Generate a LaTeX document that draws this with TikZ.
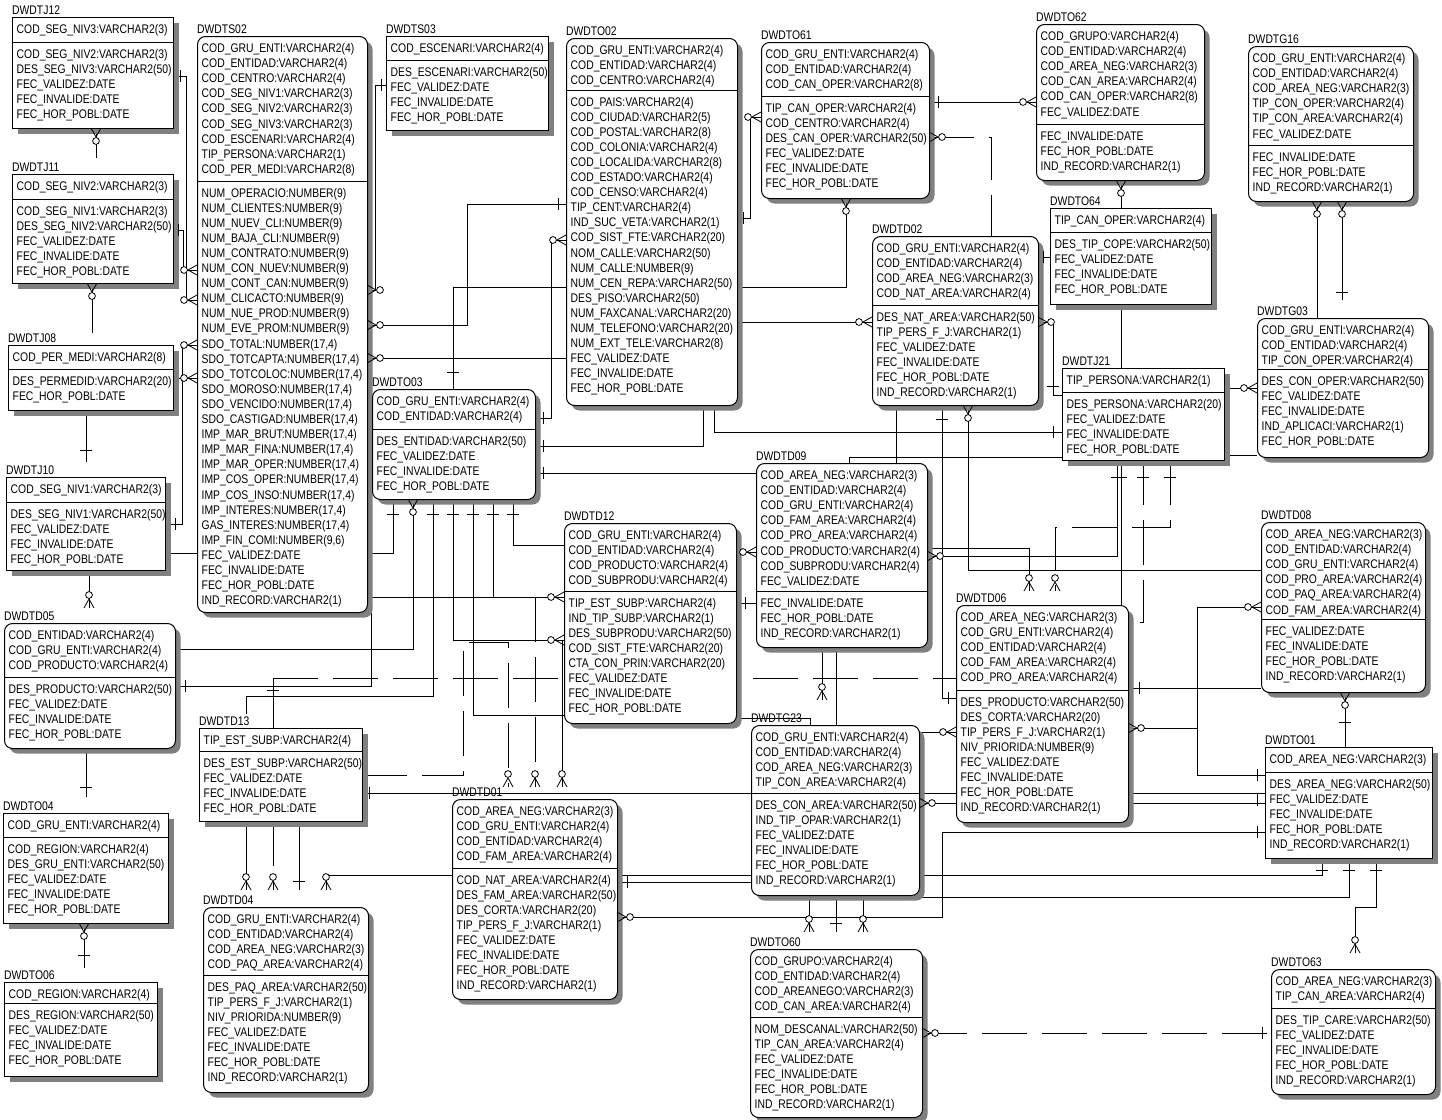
\documentclass[tikz,border=0pt]{standalone}
\usepackage{fontspec}
\setmainfont{Liberation Sans}[FakeStretch=0.83]
\usetikzlibrary{shadows}
\newcommand\efont{\fontsize{12.5}{15.1}\selectfont}
\tikzset{
  ebox/.style={draw, line width=1pt, fill=white, inner sep=0pt, anchor=north west,
    drop shadow={shadow xshift=5pt, shadow yshift=-5pt, fill=black!50, opacity=1}},
  sq/.style={ebox},
  rd/.style={ebox, rounded corners=8pt},
  etxt/.style={anchor=base west, inner sep=0pt, font=\efont},
  conn/.style={line width=0.8pt},
  ldash/.style={dash pattern=on 45pt off 15pt}
}
\newif\ifphantom
\newcommand\ent[9]{%
  \pgfmathsetmacro\ew{#4-#2}\pgfmathsetmacro\eh{#5-#3}%
  \ifphantom
    \path node[anchor=north west, inner sep=0pt, minimum width=\ew pt, minimum height=\eh pt] (#1) at (#2,#3) {};
  \else
    \node[#7, minimum width=\ew pt, minimum height=\eh pt] (#1) at (#2,#3) {};
    \draw[line width=1pt] (#1.west |- 0,#6) -- (#1.east |- 0,#6);
    \node[etxt] (#1-t) at (#2,#3-3) {#1};
    \node[etxt] (#1-k) at (#2+4.5,#3+16.5) {\begin{tabular}[t]{@{}l@{}}#8\end{tabular}};
    \node[etxt] (#1-n) at (#2+4.5,#6+16) {\begin{tabular}[t]{@{}l@{}}#9\end{tabular}};
  \fi}
% end symbols are collected and drawn last, on top of everything
\newcommand\allmarks{}
\newcommand\addmark[1]{\expandafter\gdef\expandafter\allmarks\expandafter{\allmarks#1}}
\newcommand\crcdo[4]{%
  \draw[conn] ({#1+9*(#3)},{#2+9*(#4)}) -- ({#1+5*(#4)},{#2+5*(#3)})
              ({#1+9*(#3)},{#2+9*(#4)}) -- ({#1-5*(#4)},{#2-5*(#3)});
  \draw[conn,fill=white] ({#1+13*(#3)},{#2+13*(#4)}) circle[radius=3.4];}
\newcommand\tkvdo[2]{\draw[conn] (#1,#2-6) -- (#1,#2+6);}
\newcommand\tkhdo[2]{\draw[conn] (#1-6,#2) -- (#1+6,#2);}
\newcommand\crc[4]{\addmark{\crcdo{#1}{#2}{#3}{#4}}}
\newcommand\tkv[2]{\addmark{\tkvdo{#1}{#2}}}
\newcommand\tkh[2]{\addmark{\tkhdo{#1}{#2}}}

\newcommand\allents{%
\ent{DWDTJ12}{12}{17}{173}{128}{42}{sq}
{COD\_SEG\_NIV3:VARCHAR2(3)}
{COD\_SEG\_NIV2:VARCHAR2(3)\\DES\_SEG\_NIV3:VARCHAR2(50)\\FEC\_VALIDEZ:DATE\\FEC\_INVALIDE:DATE\\FEC\_HOR\_POBL:DATE}
\ent{DWDTJ11}{12}{174}{173}{283}{199}{sq}
{COD\_SEG\_NIV2:VARCHAR2(3)}
{COD\_SEG\_NIV1:VARCHAR2(3)\\DES\_SEG\_NIV2:VARCHAR2(50)\\FEC\_VALIDEZ:DATE\\FEC\_INVALIDE:DATE\\FEC\_HOR\_POBL:DATE}
\ent{DWDTJ08}{8}{345}{173}{410}{369}{sq}
{COD\_PER\_MEDI:VARCHAR2(8)}
{DES\_PERMEDID:VARCHAR2(20)\\FEC\_HOR\_POBL:DATE}
\ent{DWDTJ10}{6}{477}{165}{570}{502}{sq}
{COD\_SEG\_NIV1:VARCHAR2(3)}
{DES\_SEG\_NIV1:VARCHAR2(50)\\FEC\_VALIDEZ:DATE\\FEC\_INVALIDE:DATE\\FEC\_HOR\_POBL:DATE}
\ent{DWDTD05}{4}{623}{175}{748}{677}{rd}
{COD\_ENTIDAD:VARCHAR2(4)\\COD\_GRU\_ENTI:VARCHAR2(4)\\COD\_PRODUCTO:VARCHAR2(4)}
{DES\_PRODUCTO:VARCHAR2(50)\\FEC\_VALIDEZ:DATE\\FEC\_INVALIDE:DATE\\FEC\_HOR\_POBL:DATE}
\ent{DWDTO04}{3}{813}{168}{923}{837}{sq}
{COD\_GRU\_ENTI:VARCHAR2(4)}
{COD\_REGION:VARCHAR2(4)\\DES\_GRU\_ENTI:VARCHAR2(50)\\FEC\_VALIDEZ:DATE\\FEC\_INVALIDE:DATE\\FEC\_HOR\_POBL:DATE}
\ent{DWDTO06}{4}{982}{157}{1076}{1003}{sq}
{COD\_REGION:VARCHAR2(4)}
{DES\_REGION:VARCHAR2(50)\\FEC\_VALIDEZ:DATE\\FEC\_INVALIDE:DATE\\FEC\_HOR\_POBL:DATE}
\ent{DWDTS02}{197}{36}{367}{612}{181}{rd}
{COD\_GRU\_ENTI:VARCHAR2(4)\\COD\_ENTIDAD:VARCHAR2(4)\\COD\_CENTRO:VARCHAR2(4)\\COD\_SEG\_NIV1:VARCHAR2(3)\\COD\_SEG\_NIV2:VARCHAR2(3)\\COD\_SEG\_NIV3:VARCHAR2(3)\\COD\_ESCENARI:VARCHAR2(4)\\TIP\_PERSONA:VARCHAR2(1)\\COD\_PER\_MEDI:VARCHAR2(8)}
{NUM\_OPERACIO:NUMBER(9)\\NUM\_CLIENTES:NUMBER(9)\\NUM\_NUEV\_CLI:NUMBER(9)\\NUM\_BAJA\_CLI:NUMBER(9)\\NUM\_CONTRATO:NUMBER(9)\\NUM\_CON\_NUEV:NUMBER(9)\\NUM\_CONT\_CAN:NUMBER(9)\\NUM\_CLICACTO:NUMBER(9)\\NUM\_NUE\_PROD:NUMBER(9)\\NUM\_EVE\_PROM:NUMBER(9)\\SDO\_TOTAL:NUMBER(17,4)\\SDO\_TOTCAPTA:NUMBER(17,4)\\SDO\_TOTCOLOC:NUMBER(17,4)\\SDO\_MOROSO:NUMBER(17,4)\\SDO\_VENCIDO:NUMBER(17,4)\\SDO\_CASTIGAD:NUMBER(17,4)\\IMP\_MAR\_BRUT:NUMBER(17,4)\\IMP\_MAR\_FINA:NUMBER(17,4)\\IMP\_MAR\_OPER:NUMBER(17,4)\\IMP\_COS\_OPER:NUMBER(17,4)\\IMP\_COS\_INSO:NUMBER(17,4)\\IMP\_INTERES:NUMBER(17,4)\\GAS\_INTERES:NUMBER(17,4)\\IMP\_FIN\_COMI:NUMBER(9,6)\\FEC\_VALIDEZ:DATE\\FEC\_INVALIDE:DATE\\FEC\_HOR\_POBL:DATE\\IND\_RECORD:VARCHAR2(1)}
\ent{DWDTS03}{386}{36}{548}{130}{60}{sq}
{COD\_ESCENARI:VARCHAR2(4)}
{DES\_ESCENARI:VARCHAR2(50)\\FEC\_VALIDEZ:DATE\\FEC\_INVALIDE:DATE\\FEC\_HOR\_POBL:DATE}
\ent{DWDTO02}{566}{38}{737}{405}{90}{rd}
{COD\_GRU\_ENTI:VARCHAR2(4)\\COD\_ENTIDAD:VARCHAR2(4)\\COD\_CENTRO:VARCHAR2(4)}
{COD\_PAIS:VARCHAR2(4)\\COD\_CIUDAD:VARCHAR2(5)\\COD\_POSTAL:VARCHAR2(8)\\COD\_COLONIA:VARCHAR2(4)\\COD\_LOCALIDA:VARCHAR2(8)\\COD\_ESTADO:VARCHAR2(4)\\COD\_CENSO:VARCHAR2(4)\\TIP\_CENT:VARCHAR2(4)\\IND\_SUC\_VETA:VARCHAR2(1)\\COD\_SIST\_FTE:VARCHAR2(20)\\NOM\_CALLE:VARCHAR2(50)\\NUM\_CALLE:NUMBER(9)\\NUM\_CEN\_REPA:VARCHAR2(50)\\DES\_PISO:VARCHAR2(50)\\NUM\_FAXCANAL:VARCHAR2(20)\\NUM\_TELEFONO:VARCHAR2(20)\\NUM\_EXT\_TELE:VARCHAR2(8)\\FEC\_VALIDEZ:DATE\\FEC\_INVALIDE:DATE\\FEC\_HOR\_POBL:DATE}
\ent{DWDTO61}{761}{42}{929}{198}{96}{rd}
{COD\_GRU\_ENTI:VARCHAR2(4)\\COD\_ENTIDAD:VARCHAR2(4)\\COD\_CAN\_OPER:VARCHAR2(8)}
{TIP\_CAN\_OPER:VARCHAR2(4)\\COD\_CENTRO:VARCHAR2(4)\\DES\_CAN\_OPER:VARCHAR2(50)\\FEC\_VALIDEZ:DATE\\FEC\_INVALIDE:DATE\\FEC\_HOR\_POBL:DATE}
\ent{DWDTO62}{1036}{24}{1204}{180}{124}{rd}
{COD\_GRUPO:VARCHAR2(4)\\COD\_ENTIDAD:VARCHAR2(4)\\COD\_AREA\_NEG:VARCHAR2(3)\\COD\_CAN\_AREA:VARCHAR2(4)\\COD\_CAN\_OPER:VARCHAR2(8)\\FEC\_VALIDEZ:DATE}
{FEC\_INVALIDE:DATE\\FEC\_HOR\_POBL:DATE\\IND\_RECORD:VARCHAR2(1)}
\ent{DWDTG16}{1248}{46}{1413}{201}{145}{rd}
{COD\_GRU\_ENTI:VARCHAR2(4)\\COD\_ENTIDAD:VARCHAR2(4)\\COD\_AREA\_NEG:VARCHAR2(3)\\TIP\_CON\_OPER:VARCHAR2(4)\\TIP\_CON\_AREA:VARCHAR2(4)\\FEC\_VALIDEZ:DATE}
{FEC\_INVALIDE:DATE\\FEC\_HOR\_POBL:DATE\\IND\_RECORD:VARCHAR2(1)}
\ent{DWDTO64}{1050}{208}{1211}{304}{232}{sq}
{TIP\_CAN\_OPER:VARCHAR2(4)}
{DES\_TIP\_COPE:VARCHAR2(50)\\FEC\_VALIDEZ:DATE\\FEC\_INVALIDE:DATE\\FEC\_HOR\_POBL:DATE}
\ent{DWDTD02}{872}{236}{1038}{405}{305}{rd}
{COD\_GRU\_ENTI:VARCHAR2(4)\\COD\_ENTIDAD:VARCHAR2(4)\\COD\_AREA\_NEG:VARCHAR2(3)\\COD\_NAT\_AREA:VARCHAR2(4)}
{DES\_NAT\_AREA:VARCHAR2(50)\\TIP\_PERS\_F\_J:VARCHAR2(1)\\FEC\_VALIDEZ:DATE\\FEC\_INVALIDE:DATE\\FEC\_HOR\_POBL:DATE\\IND\_RECORD:VARCHAR2(1)}
\ent{DWDTG03}{1257}{318}{1428}{457}{369}{rd}
{COD\_GRU\_ENTI:VARCHAR2(4)\\COD\_ENTIDAD:VARCHAR2(4)\\TIP\_CON\_OPER:VARCHAR2(4)}
{DES\_CON\_OPER:VARCHAR2(50)\\FEC\_VALIDEZ:DATE\\FEC\_INVALIDE:DATE\\IND\_APLICACI:VARCHAR2(1)\\FEC\_HOR\_POBL:DATE}
\ent{DWDTJ21}{1062}{368}{1224}{460}{392}{sq}
{TIP\_PERSONA:VARCHAR2(1)}
{DES\_PERSONA:VARCHAR2(20)\\FEC\_VALIDEZ:DATE\\FEC\_INVALIDE:DATE\\FEC\_HOR\_POBL:DATE}
\ent{DWDTO03}{372}{389}{535}{499}{429}{rd}
{COD\_GRU\_ENTI:VARCHAR2(4)\\COD\_ENTIDAD:VARCHAR2(4)}
{DES\_ENTIDAD:VARCHAR2(50)\\FEC\_VALIDEZ:DATE\\FEC\_INVALIDE:DATE\\FEC\_HOR\_POBL:DATE}
\ent{DWDTD09}{756}{463}{927}{647}{591}{rd}
{COD\_AREA\_NEG:VARCHAR2(3)\\COD\_ENTIDAD:VARCHAR2(4)\\COD\_GRU\_ENTI:VARCHAR2(4)\\COD\_FAM\_AREA:VARCHAR2(4)\\COD\_PRO\_AREA:VARCHAR2(4)\\COD\_PRODUCTO:VARCHAR2(4)\\COD\_SUBPRODU:VARCHAR2(4)\\FEC\_VALIDEZ:DATE}
{FEC\_INVALIDE:DATE\\FEC\_HOR\_POBL:DATE\\IND\_RECORD:VARCHAR2(1)}
\ent{DWDTD12}{564}{523}{736}{723}{591}{rd}
{COD\_GRU\_ENTI:VARCHAR2(4)\\COD\_ENTIDAD:VARCHAR2(4)\\COD\_PRODUCTO:VARCHAR2(4)\\COD\_SUBPRODU:VARCHAR2(4)}
{TIP\_EST\_SUBP:VARCHAR2(4)\\IND\_TIP\_SUBP:VARCHAR2(1)\\DES\_SUBPRODU:VARCHAR2(50)\\COD\_SIST\_FTE:VARCHAR2(20)\\CTA\_CON\_PRIN:VARCHAR2(20)\\FEC\_VALIDEZ:DATE\\FEC\_INVALIDE:DATE\\FEC\_HOR\_POBL:DATE}
\ent{DWDTD08}{1261}{522}{1425}{692}{619}{rd}
{COD\_AREA\_NEG:VARCHAR2(3)\\COD\_ENTIDAD:VARCHAR2(4)\\COD\_GRU\_ENTI:VARCHAR2(4)\\COD\_PRO\_AREA:VARCHAR2(4)\\COD\_PAQ\_AREA:VARCHAR2(4)\\COD\_FAM\_AREA:VARCHAR2(4)}
{FEC\_VALIDEZ:DATE\\FEC\_INVALIDE:DATE\\FEC\_HOR\_POBL:DATE\\IND\_RECORD:VARCHAR2(1)}
\ent{DWDTD06}{956}{605}{1128}{822}{690}{rd}
{COD\_AREA\_NEG:VARCHAR2(3)\\COD\_GRU\_ENTI:VARCHAR2(4)\\COD\_ENTIDAD:VARCHAR2(4)\\COD\_FAM\_AREA:VARCHAR2(4)\\COD\_PRO\_AREA:VARCHAR2(4)}
{DES\_PRODUCTO:VARCHAR2(50)\\DES\_CORTA:VARCHAR2(20)\\TIP\_PERS\_F\_J:VARCHAR2(1)\\NIV\_PRIORIDA:NUMBER(9)\\FEC\_VALIDEZ:DATE\\FEC\_INVALIDE:DATE\\FEC\_HOR\_POBL:DATE\\IND\_RECORD:VARCHAR2(1)}
\ent{DWDTD13}{199}{728}{362}{821}{751}{sq}
{TIP\_EST\_SUBP:VARCHAR2(4)}
{DES\_EST\_SUBP:VARCHAR2(50)\\FEC\_VALIDEZ:DATE\\FEC\_INVALIDE:DATE\\FEC\_HOR\_POBL:DATE}
\ent{DWDTG23}{751}{725}{919}{895}{793}{rd}
{COD\_GRU\_ENTI:VARCHAR2(4)\\COD\_ENTIDAD:VARCHAR2(4)\\COD\_AREA\_NEG:VARCHAR2(3)\\TIP\_CON\_AREA:VARCHAR2(4)}
{DES\_CON\_AREA:VARCHAR2(50)\\IND\_TIP\_OPAR:VARCHAR2(1)\\FEC\_VALIDEZ:DATE\\FEC\_INVALIDE:DATE\\FEC\_HOR\_POBL:DATE\\IND\_RECORD:VARCHAR2(1)}
\ent{DWDTO01}{1265}{747}{1432}{858}{772}{sq}
{COD\_AREA\_NEG:VARCHAR2(3)}
{DES\_AREA\_NEG:VARCHAR2(50)\\FEC\_VALIDEZ:DATE\\FEC\_INVALIDE:DATE\\FEC\_HOR\_POBL:DATE\\IND\_RECORD:VARCHAR2(1)}
\ent{DWDTD01}{452}{799}{617}{999}{868}{rd}
{COD\_AREA\_NEG:VARCHAR2(3)\\COD\_GRU\_ENTI:VARCHAR2(4)\\COD\_ENTIDAD:VARCHAR2(4)\\COD\_FAM\_AREA:VARCHAR2(4)}
{COD\_NAT\_AREA:VARCHAR2(4)\\DES\_FAM\_AREA:VARCHAR2(50)\\DES\_CORTA:VARCHAR2(20)\\TIP\_PERS\_F\_J:VARCHAR2(1)\\FEC\_VALIDEZ:DATE\\FEC\_INVALIDE:DATE\\FEC\_HOR\_POBL:DATE\\IND\_RECORD:VARCHAR2(1)}
\ent{DWDTD04}{203}{907}{368}{1092}{975}{rd}
{COD\_GRU\_ENTI:VARCHAR2(4)\\COD\_ENTIDAD:VARCHAR2(4)\\COD\_AREA\_NEG:VARCHAR2(3)\\COD\_PAQ\_AREA:VARCHAR2(4)}
{DES\_PAQ\_AREA:VARCHAR2(50)\\TIP\_PERS\_F\_J:VARCHAR2(1)\\NIV\_PRIORIDA:NUMBER(9)\\FEC\_VALIDEZ:DATE\\FEC\_INVALIDE:DATE\\FEC\_HOR\_POBL:DATE\\IND\_RECORD:VARCHAR2(1)}
\ent{DWDTO60}{750}{949}{922}{1117}{1017}{rd}
{COD\_GRUPO:VARCHAR2(4)\\COD\_ENTIDAD:VARCHAR2(4)\\COD\_AREANEGO:VARCHAR2(3)\\COD\_CAN\_AREA:VARCHAR2(4)}
{NOM\_DESCANAL:VARCHAR2(50)\\TIP\_CAN\_AREA:VARCHAR2(4)\\FEC\_VALIDEZ:DATE\\FEC\_INVALIDE:DATE\\FEC\_HOR\_POBL:DATE\\IND\_RECORD:VARCHAR2(1)}
\ent{DWDTO63}{1271}{969}{1435}{1094}{1008}{rd}
{COD\_AREA\_NEG:VARCHAR2(3)\\TIP\_CAN\_AREA:VARCHAR2(4)}
{DES\_TIP\_CARE:VARCHAR2(50)\\FEC\_VALIDEZ:DATE\\FEC\_INVALIDE:DATE\\FEC\_HOR\_POBL:DATE\\IND\_RECORD:VARCHAR2(1)}
}

\begin{document}
\begin{tikzpicture}[x=1pt,y=-1pt]
\fill[white] (0,0) rectangle (1442,1119);
\useasboundingbox (0,0) rectangle (1442,1119);

% pass 1: named frames only (no ink), so connectors can refer to them
\phantomtrue
\allents

% ================= CONNECTORS =================
% left column
\draw[conn] (DWDTJ12.east|-0,76) -| (186,300) -- (DWDTS02.west|-0,300);
\tkv{180}{76} \crc{197}{300}{-1}{0}
\draw[conn] (DWDTJ11.east|-0,230) -| (183,270) -- (DWDTS02.west|-0,270);
\tkv{178}{230} \crc{197}{270}{-1}{0}
\draw[conn] (DWDTJ08.east|-0,378) -- (DWDTS02.west|-0,378);
\crc{197}{378}{-1}{0}
\draw[conn] (DWDTJ10.east|-0,524) -| (182,345) -- (DWDTS02.west|-0,345);
\tkv{175}{524} \crc{197}{345}{-1}{0}
\draw[conn] (DWDTJ10.east|-0,553) -- (DWDTS02.west|-0,553);
\draw[conn] (DWDTJ12.south-|96,0) -- (96,158); \crc{96}{128}{0}{1}
\draw[conn] (DWDTJ11.south-|92,0) -- (92,333); \crc{92}{283}{0}{1}
\draw[conn] (DWDTJ08.south-|86,0) -- (86,462); \tkh{86}{450}
\draw[conn] (DWDTJ10.south-|89,0) -- (89,608); \crc{89}{608}{0}{-1}
\draw[conn] (DWDTD05.south-|86,0) -- (86,797); \tkh{86}{787}
\draw[conn] (DWDTO04.south-|84,0) -- (84,968); \crc{84}{923}{0}{1} \tkh{84}{955}

% DWDTS02 right side
\draw[conn] (DWDTS03.west|-0,85) -| (375,290) -- (DWDTS02.east|-0,290);
\tkv{381}{85} \crc{367}{290}{1}{0}
\draw[conn] (DWDTO02.west|-0,204) -| (467,325) -- (DWDTS02.east|-0,325);
\tkv{558}{204} \crc{367}{325}{1}{0}
\draw[conn] (DWDTO02.west|-0,358) -- (DWDTS02.east|-0,358); \crc{367}{358}{1}{0}
\draw[conn] (DWDTO02.west|-0,287) -| (DWDTO03.north-|453,0); \tkh{453}{372}
\draw[conn] (DWDTO03.east|-0,418) -| (551,240) -- (DWDTO02.west|-0,240);
\tkv{543}{418} \crc{566}{240}{-1}{0}
\draw[conn] (DWDTO02.south-|703,0) |- (DWDTO03.east|-0,446); \tkv{543}{446}
\draw[conn] (DWDTO03.east|-0,473) -- (DWDTD09.west|-0,473); \tkv{543}{473}
\draw[conn] (DWDTO02.south-|714,0) |- (DWDTJ21.west|-0,432); \tkv{1053}{432}

% DWDTO03 bottom
\draw[conn] (DWDTO03.south-|393,0) |- (DWDTS02.east|-0,553); \tkh{393}{514}
\draw[conn] (DWDTO03.south-|413,0) |- (DWDTD05.east|-0,649); \crc{413}{499}{0}{1}
\draw[conn] (DWDTO03.south-|433,0) |- (246,696) -- (246,714); \tkh{433}{514}
\draw[conn] (DWDTO03.south-|453,0) |- (DWDTD12.west|-0,640); \tkh{453}{514} \crc{564}{640}{-1}{0}
\draw[conn] (DWDTO03.south-|473,0) |- (DWDTD12.west|-0,715); \tkh{473}{514}
\draw[conn] (DWDTO03.south-|493,0) |- (DWDTD12.west|-0,597); \tkh{493}{514} \crc{564}{597}{-1}{0}
\draw[conn] (DWDTO03.south-|513,0) |- (DWDTD12.west|-0,545); \tkh{513}{514}

% centre lower
\draw[conn] (DWDTD05.east|-0,686) -| (371,597) -- (493,597); \tkv{185}{686}
\draw[conn,ldash] (DWDTD13.east|-0,775) -| (463,642) -| (508,787); \crc{508}{787}{0}{-1}
\draw[conn,ldash] (535,597) -- (535,787); \crc{535}{787}{0}{-1}
\draw[conn] (562,640) -- (562,787); \crc{562}{787}{0}{-1}
\draw[conn] (DWDTD13.north-|273,0) -- (273,678); \tkh{273}{690}
\draw[conn,ldash] (273,678) -- (DWDTD06.west|-0,678);
\draw[conn] (DWDTD13.east|-0,793) -- (DWDTD06.west|-0,793); \tkv{369}{793}
\draw[conn] (DWDTG23.east|-0,803) -- (DWDTD06.west|-0,803); \crc{919}{803}{1}{0}
\draw[conn] (DWDTG23.east|-0,732) -- (DWDTD06.west|-0,732); \crc{956}{732}{-1}{0}
\draw[conn] (DWDTD12.east|-0,718) -| (DWDTG23.north-|810,0);
\draw[conn] (DWDTD13.south-|246,0) -- (246,890); \crc{246}{890}{0}{-1}
\draw[conn,ldash] (DWDTD13.south-|273,0) -- (273,890); \crc{273}{890}{0}{-1}
\draw[conn] (DWDTD13.south-|299,0) -- (299,890); \tkh{299}{881}
\draw[conn] (DWDTO01.south-|1322,0) |- (326,875) -- (326,890); \crc{326}{890}{0}{-1} \tkh{1322}{870}
\draw[conn] (DWDTD01.east|-0,882) -- (DWDTG23.west|-0,882); \tkv{627}{882}
\draw[conn] (DWDTO01.west|-0,832) -| (942,917) -- (DWDTD01.east|-0,917); \tkv{1257}{832} \crc{617}{917}{1}{0}
\draw[conn] (DWDTO01.south-|1349,0) |- (DWDTG23.east|-0,897); \tkh{1349}{870}
\draw[conn] (DWDTO01.south-|1376,0) |- (1355,907) -- (1355,953); \tkh{1376}{870} \crc{1355}{953}{0}{-1}
\draw[conn] (DWDTG23.south-|809,0) -- (809,932); \crc{809}{932}{0}{-1}
\draw[conn] (DWDTG23.south-|836,0) -- (836,932); \tkh{836}{923}
\draw[conn] (DWDTG23.south-|863,0) -- (863,932); \crc{863}{932}{0}{-1}
\draw[conn,ldash] (DWDTO60.east|-0,1033) -- (DWDTO63.west|-0,1033); \crc{922}{1033}{1}{0} \tkv{1262}{1033}
\draw[conn] (DWDTD09.south-|822,0) -- (822,700); \crc{822}{700}{0}{-1}
\draw[conn] (DWDTD09.south-|836,0) -- (DWDTG23.north-|836,0);
\draw[conn] (DWDTD12.east|-0,552) -- (DWDTD09.west|-0,552); \crc{756}{552}{-1}{0}
\draw[conn] (DWDTD12.east|-0,603) -- (DWDTD09.west|-0,603); \tkv{745}{603}

% top middle
\draw[conn] (DWDTO61.south-|846,0) |- (DWDTO02.east|-0,287); \crc{846}{198}{0}{1}
\draw[conn] (DWDTO02.east|-0,218) -| (750,117) -- (DWDTO61.west|-0,117); \crc{761}{117}{-1}{0} \tkv{743}{218}
\draw[conn] (DWDTO61.east|-0,102) -- (DWDTO62.west|-0,102); \tkv{938}{102} \crc{1036}{102}{-1}{0}
\draw[conn,ldash] (DWDTO61.east|-0,137) -| (DWDTD02.north-|991,0); \crc{929}{137}{1}{0}
\draw[conn] (DWDTO02.east|-0,322) -- (DWDTD02.west|-0,322); \crc{872}{322}{-1}{0}

% right side
\draw[conn] (DWDTO62.south-|1121,0) -- (DWDTO64.north-|1121,0); \crc{1121}{180}{0}{1}
\draw[conn] (DWDTO64.south-|1121,0) -- (DWDTJ21.north-|1121,0);
\draw[conn] (DWDTG16.south-|1317,0) -- (DWDTG03.north-|1317,0); \crc{1317}{201}{0}{1}
\draw[conn] (DWDTG16.south-|1342,0) -- (1342,300); \crc{1342}{201}{0}{1} \tkh{1342}{292}
\draw[conn] (DWDTD02.east|-0,257) -- (DWDTO64.west|-0,257); \tkv{1043}{257}
\draw[conn] (DWDTD02.east|-0,322) -| (1053,395) -- (DWDTJ21.west|-0,395); \crc{1038}{322}{1}{0} \tkh{1053}{386}
\draw[conn] (DWDTJ21.east|-0,388) -- (DWDTG03.west|-0,388); \crc{1257}{388}{-1}{0}
\draw[conn] (DWDTJ21.east|-0,455) -- (DWDTG03.west|-0,455);
\draw[conn] (DWDTD02.south-|896,0) -- (DWDTD09.north-|896,0);
\draw[conn] (DWDTD02.south-|942,0) |- (DWDTD06.west|-0,698); \tkh{942}{419} \tkv{948}{698}
\draw[conn] (DWDTD02.south-|968,0) |- (DWDTD08.west|-0,570); \crc{968}{405}{0}{1}
\draw[conn] (DWDTD09.north-|849,0) |- (DWDTJ21.west|-0,457);
\draw[conn] (DWDTD09.east|-0,548) -| (1029,591); \crc{1029}{591}{0}{-1}
\draw[conn] (DWDTJ21.south-|1117,0) |- (DWDTD09.east|-0,556); \tkh{1117}{477} \crc{927}{556}{1}{0}
\draw[conn] (DWDTJ21.south-|1121,0) -- (DWDTD06.north-|1121,0); \tkh{1121}{477}
\draw[conn,ldash] (DWDTJ21.south-|1143,0) |- (DWDTD06.east|-0,622); \tkh{1143}{477}
\draw[conn,ldash] (DWDTJ21.south-|1170,0) |- (1055,527) -- (1055,591); \tkh{1170}{477} \crc{1055}{591}{0}{-1}
\draw[conn] (DWDTO01.west|-0,775) -| (1197,607) -- (DWDTD08.west|-0,607); \tkv{1257}{775} \crc{1261}{607}{-1}{0}
\draw[conn] (DWDTD06.east|-0,688) -- (DWDTD08.west|-0,688); \tkv{1139}{688}
\draw[conn] (DWDTD06.east|-0,728) -- (1197,728); \crc{1128}{728}{1}{0}
\draw[conn] (DWDTD06.east|-0,793) -- (DWDTO01.west|-0,793);
\draw[conn] (DWDTD06.east|-0,803) -- (DWDTO01.west|-0,803); \tkv{1257}{800}
\draw[conn] (DWDTD08.south-|1345,0) -- (DWDTO01.north-|1345,0); \crc{1345}{692}{0}{1} \tkh{1345}{722}

% pass 2: the visible boxes, over the connector lines
\phantomfalse
\allents

% end marks on top
\allmarks
\end{tikzpicture}
\end{document}
